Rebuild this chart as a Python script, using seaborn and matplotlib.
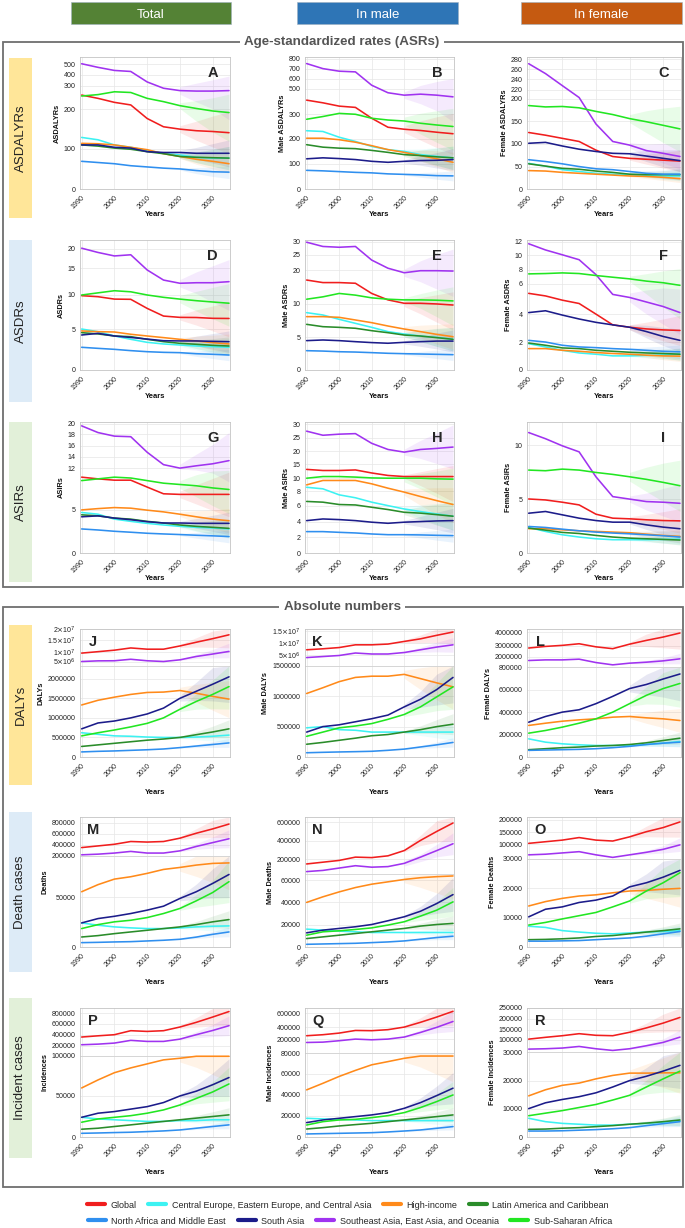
import numpy as np
import pandas as pd
import matplotlib
matplotlib.use("Agg")
import matplotlib.pyplot as plt
import seaborn as sns
from matplotlib.patches import Rectangle
from matplotlib.lines import Line2D

sns.set_theme(style="white")
plt.rcParams['font.family'] = ['Liberation Sans', 'DejaVu Sans']

# ---------------------------------------------------------------- data
YEARS = [1990, 1995, 2000, 2005, 2010, 2015, 2020, 2025, 2030, 2035]
REGIONS = ["Global", "Central Europe, Eastern Europe, and Central Asia", "High-income",
           "Latin America and Caribbean", "North Africa and Middle East", "South Asia",
           "Southeast Asia, East Asia, and Oceania", "Sub-Saharan Africa"]
COLORS = ["#F01E1E", "#3CF2F2", "#FF8A1A", "#2A8C2A", "#2F8FEF", "#1C1C8A", "#A033F0", "#22E622"]
GL, CE, HI, LA, NA, SA, SE, SS = REGIONS

A = {GL: [261, 247, 230, 219, 177, 156, 150, 146, 144, 141],
     CE: [129, 123, 110, 104, 96, 89, 85, 79, 77, 77],
     HI: [114, 113, 110, 104, 98, 88, 81, 74, 69, 63],
     LA: [110, 107, 102, 99, 93, 88, 81, 79, 78, 77],
     NA: [69, 66, 63, 58, 55, 52, 50, 46, 43, 42],
     SA: [110, 110, 104, 102, 93, 91, 91, 89, 89, 89],
     SE: [505, 470, 440, 430, 335, 290, 280, 278, 278, 280],
     SS: [257, 263, 275, 272, 247, 233, 216, 204, 196, 192]}
B = {GL: [409, 388, 362, 352, 283, 247, 239, 234, 227, 221],
     CE: [233, 230, 207, 190, 170, 157, 150, 137, 130, 124],
     HI: [203, 203, 197, 187, 173, 157, 146, 133, 120, 106],
     LA: [177, 167, 163, 161, 154, 146, 137, 133, 128, 124],
     NA: [74, 72, 69, 66, 64, 60, 58, 56, 53, 52],
     SA: [120, 124, 121, 117, 110, 106, 110, 113, 114, 117],
     SE: [751, 700, 674, 667, 533, 467, 448, 456, 448, 435],
     SS: [279, 290, 305, 299, 283, 276, 272, 263, 256, 250]}
C = {GL: [125, 119, 112, 105, 86, 72, 68, 66, 64, 62],
     CE: [57, 51, 43, 39, 35, 33, 32, 31, 29, 29],
     HI: [41, 40, 37, 35, 33, 31, 29, 28, 26, 23],
     LA: [56, 51, 46, 44, 40, 37, 33, 32, 32, 32],
     NA: [65, 61, 56, 50, 45, 43, 39, 35, 33, 33],
     SA: [101, 103, 95, 88, 83, 79, 78, 73, 68, 63],
     SE: [271, 251, 228, 203, 144, 105, 97, 85, 79, 72],
     SS: [185, 182, 183, 180, 172, 165, 156, 149, 141, 133]}
D = {GL: [9.9, 9.75, 9.4, 9.37, 8.05, 6.93, 6.74, 6.72, 6.6, 6.58],
     CE: [5.04, 4.71, 4.18, 3.77, 3.4, 3.2, 3.07, 2.95, 2.87, 2.79],
     HI: [4.8, 4.71, 4.67, 4.39, 4.18, 3.98, 3.77, 3.57, 3.36, 3.2],
     LA: [4.59, 4.43, 4.18, 4.1, 3.77, 3.48, 3.28, 3.16, 3.03, 2.95],
     NA: [2.79, 2.66, 2.54, 2.38, 2.25, 2.17, 2.13, 2.0, 1.93, 1.84],
     SA: [4.3, 4.5, 4.18, 4.0, 3.8, 3.6, 3.57, 3.57, 3.52, 3.48],
     SE: [20.2, 19.1, 18.2, 18.5, 14.7, 12.8, 12.2, 12.3, 12.3, 12.5],
     SS: [10.0, 10.4, 10.8, 10.6, 10.0, 9.66, 9.4, 9.17, 8.98, 8.8]}
E = {GL: [17.05, 16.3, 16.3, 16.1, 13.1, 11.2, 10.2, 10.2, 10.0, 9.84],
     CE: [8.7, 8.35, 7.7, 7.1, 6.5, 5.86, 5.5, 5.2, 5.0, 4.7],
     HI: [8.1, 8.1, 8.0, 7.6, 7.2, 6.7, 6.25, 5.86, 5.45, 5.1],
     LA: [6.95, 6.6, 6.5, 6.36, 6.0, 5.7, 5.35, 5.2, 4.96, 4.7],
     NA: [2.96, 2.9, 2.8, 2.75, 2.66, 2.56, 2.5, 2.45, 2.4, 2.35],
     SA: [4.5, 4.6, 4.5, 4.34, 4.2, 4.1, 4.24, 4.34, 4.43, 4.43],
     SE: [29.8, 28.2, 27.9, 28.2, 23.3, 20.6, 19.2, 19.8, 19.8, 19.7],
     SS: [11.4, 12.1, 13.1, 12.6, 11.8, 11.4, 11.2, 11.2, 11.1, 10.9]}
F = {GL: [5.37, 5.2, 4.92, 4.7, 4.0, 3.23, 3.06, 2.94, 2.87, 2.83],
     CE: [1.88, 1.65, 1.41, 1.22, 1.13, 1.01, 1.01, 1.04, 1.08, 1.13],
     HI: [1.53, 1.53, 1.41, 1.34, 1.25, 1.18, 1.13, 1.06, 1.01, 0.99],
     LA: [1.93, 1.77, 1.58, 1.53, 1.41, 1.34, 1.27, 1.22, 1.18, 1.13],
     NA: [2.12, 2.0, 1.77, 1.65, 1.6, 1.53, 1.48, 1.41, 1.34, 1.3],
     SA: [4.1, 4.22, 3.93, 3.65, 3.41, 3.23, 3.06, 2.75, 2.4, 2.12],
     SE: [11.7, 10.8, 10.1, 9.4, 7.3, 5.3, 5.1, 4.8, 4.5, 4.1],
     SS: [7.4, 7.45, 7.54, 7.45, 7.17, 6.93, 6.7, 6.38, 6.15, 5.9]}
G = {GL: [8.8, 8.6, 8.45, 8.45, 7.65, 6.87, 6.8, 6.8, 6.8, 6.8],
     CE: [4.7, 4.5, 3.93, 3.67, 3.44, 3.25, 3.09, 2.98, 2.9, 2.79],
     HI: [5.0, 5.15, 5.27, 5.2, 4.97, 4.77, 4.5, 4.2, 3.93, 3.74],
     LA: [4.43, 4.31, 4.05, 3.93, 3.67, 3.48, 3.25, 3.09, 2.98, 2.86],
     NA: [2.79, 2.67, 2.52, 2.41, 2.29, 2.21, 2.14, 2.06, 1.99, 1.91],
     SA: [4.2, 4.31, 4.05, 3.86, 3.63, 3.48, 3.48, 3.44, 3.44, 3.44],
     SE: [19.6, 18.35, 17.7, 17.6, 14.8, 12.6, 12.0, 12.4, 12.75, 13.3],
     SS: [8.4, 8.6, 8.8, 8.7, 8.4, 8.1, 7.95, 7.8, 7.55, 7.37]}
H = {GL: [13.2, 12.8, 12.8, 13.0, 11.9, 11.0, 10.6, 10.6, 10.6, 10.6],
     CE: [8.6, 8.36, 7.5, 7.1, 6.5, 6.03, 5.6, 5.27, 4.97, 4.68],
     HI: [8.97, 9.65, 9.65, 9.65, 9.13, 8.46, 7.87, 7.27, 6.71, 6.18],
     LA: [6.6, 6.5, 6.18, 6.12, 5.82, 5.53, 5.18, 5.07, 4.88, 4.68],
     NA: [2.72, 2.72, 2.63, 2.55, 2.42, 2.33, 2.33, 2.3, 2.25, 2.21],
     SA: [4.12, 4.33, 4.25, 4.12, 3.92, 3.78, 3.92, 4.0, 4.08, 4.12],
     SE: [27.5, 26.0, 26.4, 26.6, 23.0, 20.7, 19.7, 20.7, 21.1, 21.6],
     SS: [10.0, 10.6, 10.6, 10.4, 10.1, 10.0, 10.0, 10.0, 9.9, 9.85]}
I = {GL: [5.01, 4.92, 4.71, 4.46, 3.6, 3.23, 3.17, 3.08, 3.01, 2.98],
     CE: [2.37, 2.0, 1.69, 1.48, 1.32, 1.23, 1.23, 1.23, 1.26, 1.29],
     HI: [2.25, 2.25, 2.15, 2.06, 2.0, 1.94, 1.88, 1.75, 1.63, 1.54],
     LA: [2.31, 2.12, 1.91, 1.81, 1.63, 1.48, 1.38, 1.32, 1.26, 1.2],
     NA: [2.46, 2.37, 2.21, 2.06, 1.94, 1.85, 1.78, 1.69, 1.6, 1.48],
     SA: [3.69, 3.85, 3.54, 3.23, 3.01, 2.86, 2.86, 2.61, 2.4, 2.25],
     SE: [11.17, 10.6, 9.94, 9.38, 7.07, 5.23, 5.0, 4.77, 4.71, 4.61],
     SS: [7.69, 7.63, 7.78, 7.69, 7.47, 7.29, 7.07, 6.83, 6.55, 6.24]}
J = {GL: [9.5e6, 1.02e7, 1.08e7, 1.17e7, 1.12e7, 1.12e7, 1.25e7, 1.4e7, 1.55e7, 1.73e7],
     CE: [6.2e5, 5.8e5, 5.4e5, 5.3e5, 5.1e5, 5.0e5, 5.0e5, 5.1e5, 5.3e5, 5.6e5],
     HI: [1.33e6, 1.45e6, 1.53e6, 1.60e6, 1.65e6, 1.66e6, 1.70e6, 1.63e6, 1.55e6, 1.48e6],
     LA: [2.7e5, 3.1e5, 3.5e5, 3.9e5, 4.3e5, 4.6e5, 5.0e5, 5.7e5, 6.4e5, 7.2e5],
     NA: [1.3e5, 1.45e5, 1.55e5, 1.7e5, 1.85e5, 2.05e5, 2.4e5, 2.8e5, 3.2e5, 3.6e5],
     SA: [7.2e5, 8.7e5, 9.2e5, 1.0e6, 1.1e6, 1.25e6, 1.5e6, 1.68e6, 1.86e6, 2.05e6],
     SE: [5.0e6, 5.35e6, 5.4e6, 6.2e6, 5.4e6, 5.0e6, 5.9e6, 7.7e6, 9.0e6, 1.03e7],
     SS: [5.4e5, 6.2e5, 6.9e5, 7.7e5, 8.6e5, 1.0e6, 1.22e6, 1.42e6, 1.6e6, 1.8e6]}
K = {GL: [7.3e6, 7.7e6, 8.2e6, 9.3e6, 9.3e6, 9.6e6, 1.07e7, 1.18e7, 1.33e7, 1.47e7],
     CE: [4.8e5, 5.0e5, 4.5e5, 4.4e5, 4.1e5, 4.1e5, 4.1e5, 4.1e5, 4.1e5, 4.1e5],
     HI: [1.045e6, 1.14e6, 1.24e6, 1.31e6, 1.33e6, 1.33e6, 1.36e6, 1.29e6, 1.22e6, 1.155e6],
     LA: [2.1e5, 2.4e5, 2.75e5, 3.1e5, 3.5e5, 3.7e5, 4.1e5, 4.5e5, 5.0e5, 5.4e5],
     NA: [7e4, 7.7e4, 8.3e4, 8.8e4, 9.4e4, 1.1e5, 1.3e5, 1.65e5, 2.0e5, 2.4e5],
     SA: [4.1e5, 5.0e5, 5.3e5, 5.8e5, 6.3e5, 6.9e5, 8.25e5, 9.5e5, 1.11e6, 1.31e6],
     SE: [4.3e6, 4.65e6, 5.0e6, 6.0e6, 5.6e6, 5.6e6, 6.2e6, 7.3e6, 8.4e6, 9.3e6],
     SS: [3.4e5, 4.1e5, 4.8e5, 5.1e5, 5.5e5, 6.2e5, 7.0e5, 8.25e5, 9.9e5, 1.155e6]}
L = {GL: [2.79e6, 2.94e6, 3.03e6, 3.15e6, 2.9e6, 2.73e6, 3.12e6, 3.4e6, 3.65e6, 3.95e6],
     CE: [1.64e5, 1.34e5, 1.19e5, 1.1e5, 1.04e5, 1.04e5, 1.04e5, 1.13e5, 1.25e5, 1.4e5],
     HI: [2.84e5, 3.04e5, 3.22e5, 3.34e5, 3.43e5, 3.58e5, 3.64e5, 3.52e5, 3.43e5, 3.28e5],
     LA: [6.6e4, 7.5e4, 8.4e4, 9.0e4, 9.9e4, 1.04e5, 1.13e5, 1.28e5, 1.49e5, 1.7e5],
     NA: [6.0e4, 6.3e4, 6.6e4, 6.9e4, 7.5e4, 8.4e4, 9.6e4, 1.13e5, 1.25e5, 1.34e5],
     SA: [3.13e5, 3.64e5, 4.03e5, 4.24e5, 4.78e5, 5.43e5, 6.12e5, 6.48e5, 6.96e5, 7.4e5],
     SE: [1.55e6, 1.62e6, 1.62e6, 1.7e6, 1.32e6, 1.06e6, 1.25e6, 1.36e6, 1.51e6, 1.74e6],
     SS: [2.15e5, 2.39e5, 2.69e5, 3.04e5, 3.43e5, 4.03e5, 4.78e5, 5.52e5, 6.12e5, 6.57e5]}
M = {GL: [3.5e5, 3.8e5, 4.1e5, 4.6e5, 4.5e5, 4.6e5, 5.2e5, 6.1e5, 6.9e5, 7.8e5],
     CE: [2.43e4, 2.2e4, 2.03e4, 1.93e4, 1.86e4, 1.86e4, 1.93e4, 2.03e4, 2.1e4, 2.13e4],
     HI: [5.58e4, 6.3e4, 6.86e4, 7.1e4, 7.44e4, 7.84e4, 8.04e4, 8.28e4, 8.45e4, 8.5e4],
     LA: [1.01e4, 1.15e4, 1.35e4, 1.52e4, 1.69e4, 1.86e4, 2.03e4, 2.26e4, 2.54e4, 2.77e4],
     NA: [4.4e3, 4.7e3, 5.1e3, 5.4e3, 6.1e3, 6.8e3, 7.8e3, 1.0e4, 1.28e4, 1.52e4],
     SA: [2.43e4, 2.87e4, 3.1e4, 3.38e4, 3.72e4, 4.12e4, 4.9e4, 5.58e4, 6.42e4, 7.33e4],
     SE: [2.18e5, 2.3e5, 2.5e5, 2.8e5, 2.5e5, 2.5e5, 2.9e5, 3.7e5, 4.4e5, 5.1e5],
     SS: [1.86e4, 2.26e4, 2.54e4, 2.7e4, 2.97e4, 3.38e4, 3.89e4, 4.66e4, 5.5e4, 6.6e4]}
N = {GL: [1.84e5, 1.9e5, 1.96e5, 2.23e5, 2.18e5, 2.37e5, 2.94e5, 4.04e5, 5.0e5, 5.9e5],
     CE: [1.59e4, 1.5e4, 1.41e4, 1.35e4, 1.29e4, 1.29e4, 1.29e4, 1.29e4, 1.29e4, 1.29e4],
     HI: [4.0e4, 4.5e4, 4.94e4, 5.33e4, 5.63e4, 5.84e4, 6.05e4, 6.2e4, 6.29e4, 6.35e4],
     LA: [7.5e3, 9.0e3, 1.05e4, 1.2e4, 1.35e4, 1.5e4, 1.65e4, 1.86e4, 2.0e4, 2.1e4],
     NA: [2.4e3, 2.7e3, 3.0e3, 3.3e3, 3.9e3, 4.5e3, 5.4e3, 6.9e3, 8.4e3, 9.6e3],
     SA: [1.26e4, 1.5e4, 1.65e4, 1.8e4, 2.0e4, 2.34e4, 2.7e4, 3.2e4, 3.9e4, 4.7e4],
     SE: [1.58e5, 1.62e5, 1.70e5, 1.78e5, 1.73e5, 1.75e5, 1.86e5, 2.23e5, 2.94e5, 3.68e5],
     SS: [1.05e4, 1.35e4, 1.44e4, 1.56e4, 1.7e4, 1.95e4, 2.25e4, 2.76e4, 3.3e4, 4.05e4]}
O = {GL: [1.03e5, 1.1e5, 1.17e5, 1.28e5, 1.17e5, 1.13e5, 1.31e5, 1.53e5, 1.69e5, 1.91e5],
     CE: [7.1e3, 6.7e3, 5.6e3, 5.1e3, 4.7e3, 4.5e3, 4.8e3, 5.1e3, 5.3e3, 5.6e3],
     HI: [1.4e4, 1.55e4, 1.66e4, 1.74e4, 1.78e4, 1.85e4, 1.91e4, 1.93e4, 1.97e4, 2.0e4],
     LA: [2.5e3, 2.6e3, 2.8e3, 3.1e3, 3.6e3, 3.9e3, 4.5e3, 5.1e3, 5.6e3, 6.2e3],
     NA: [2.0e3, 2.0e3, 2.1e3, 2.2e3, 2.5e3, 2.8e3, 3.1e3, 3.7e3, 4.5e3, 5.3e3],
     SA: [1.03e4, 1.29e4, 1.37e4, 1.52e4, 1.6e4, 1.74e4, 2.05e4, 2.19e4, 2.38e4, 2.61e4],
     SE: [4.9e4, 5.2e4, 5.8e4, 6.4e4, 4.9e4, 3.7e4, 4.9e4, 6.1e4, 7.5e4, 9.6e4],
     SS: [7.5e3, 8.4e3, 9.6e3, 1.07e4, 1.18e4, 1.37e4, 1.57e4, 1.91e4, 2.19e4, 2.53e4]}
P = {GL: [3.58e5, 3.8e5, 4.0e5, 4.73e5, 4.6e5, 4.73e5, 5.4e5, 6.26e5, 7.25e5, 8.3e5],
     CE: [2.4e4, 2.2e4, 2.1e4, 2.0e4, 1.9e4, 1.9e4, 2.0e4, 2.0e4, 2.1e4, 2.1e4],
     HI: [6.0e4, 7.0e4, 7.9e4, 8.5e4, 9.0e4, 9.5e4, 9.7e4, 9.95e4, 9.95e4, 9.95e4],
     LA: [9.5e3, 1.07e4, 1.28e4, 1.48e4, 1.69e4, 1.9e4, 2.1e4, 2.3e4, 2.5e4, 2.7e4],
     NA: [4.5e3, 4.9e3, 5.4e3, 5.8e3, 6.6e3, 7.4e3, 8.6e3, 1.07e4, 1.28e4, 1.48e4],
     SA: [2.4e4, 2.9e4, 3.1e4, 3.4e4, 3.7e4, 4.2e4, 5.0e4, 5.6e4, 6.4e4, 7.3e4],
     SE: [2.19e5, 2.3e5, 2.49e5, 2.98e5, 2.79e5, 2.79e5, 3.2e5, 4.0e5, 4.77e5, 5.65e5],
     SS: [1.8e4, 2.2e4, 2.4e4, 2.6e4, 2.9e4, 3.3e4, 3.9e4, 4.7e4, 5.5e4, 6.5e4]}
Q = {GL: [2.56e5, 2.73e5, 3.0e5, 3.44e5, 3.4e5, 3.57e5, 4.0e5, 4.68e5, 5.43e5, 6.24e5],
     CE: [1.78e4, 1.72e4, 1.68e4, 1.62e4, 1.56e4, 1.56e4, 1.56e4, 1.56e4, 1.56e4, 1.56e4],
     HI: [4.48e4, 5.1e4, 5.75e4, 6.33e4, 6.87e4, 7.18e4, 7.5e4, 7.72e4, 7.72e4, 7.72e4],
     LA: [7.6e3, 8.9e3, 1.05e4, 1.18e4, 1.3e4, 1.46e4, 1.62e4, 1.78e4, 1.94e4, 2.1e4],
     NA: [2.9e3, 3.2e3, 3.5e3, 3.8e3, 4.1e3, 4.8e3, 5.7e3, 6.7e3, 8.3e3, 9.9e3],
     SA: [1.37e4, 1.62e4, 1.78e4, 1.94e4, 2.1e4, 2.32e4, 2.73e4, 3.27e4, 3.94e4, 4.64e4],
     SE: [1.71e5, 1.74e5, 1.86e5, 2.0e5, 1.94e5, 2.0e5, 2.34e5, 3.11e5, 3.96e5, 4.8e5],
     SS: [1.14e4, 1.46e4, 1.62e4, 1.68e4, 1.84e4, 2.03e4, 2.32e4, 2.8e4, 3.37e4, 4.0e4]}
R = {GL: [1.03e5, 1.12e5, 1.2e5, 1.3e5, 1.22e5, 1.2e5, 1.37e5, 1.58e5, 1.8e5, 2.06e5],
     CE: [6.6e3, 5.4e3, 4.8e3, 4.5e3, 4.2e3, 4.2e3, 4.5e3, 4.8e3, 5.2e3, 5.7e3],
     HI: [1.46e4, 1.68e4, 1.84e4, 1.92e4, 2.07e4, 2.19e4, 2.27e4, 2.27e4, 2.28e4, 2.28e4],
     LA: [2.7e3, 2.8e3, 3.1e3, 3.3e3, 3.65e3, 4.0e3, 4.5e3, 4.9e3, 5.4e3, 6.0e3],
     NA: [2.1e3, 2.1e3, 2.2e3, 2.4e3, 2.6e3, 2.9e3, 3.3e3, 4.0e3, 4.7e3, 5.4e3],
     SA: [1.0e4, 1.21e4, 1.33e4, 1.43e4, 1.57e4, 1.78e4, 2.01e4, 2.16e4, 2.34e4, 2.54e4],
     SE: [4.7e4, 4.9e4, 5.3e4, 6.2e4, 4.9e4, 3.95e4, 4.9e4, 6.6e4, 8.5e4, 1.13e5],
     SS: [7.5e3, 8.4e3, 9.3e3, 1.04e4, 1.15e4, 1.31e4, 1.48e4, 1.78e4, 2.07e4, 2.34e4]}

# y tick values of each panel (axis labels)
TICKS_A = [0, 100, 200, 300, 400, 500]
TICKS_B = [0, 100, 200, 300, 500, 600, 700, 800]
TICKS_C = [0, 50, 100, 150, 200, 220, 240, 260, 280]
TICKS_D = [0, 5, 10, 15, 20]
TICKS_E = [0, 5, 10, 20, 25, 30]
TICKS_F = [0, 2, 4, 6, 8, 10, 12]
TICKS_G = [0, 5, 12, 14, 16, 18, 20]
TICKS_H = [0, 2, 4, 6, 8, 10, 15, 20, 25, 30]
TICKS_I = [0, 5, 10]
TICKS_J = [0, 5e5, 1e6, 1.5e6, 2e6, 5e6, 1e7, 1.5e7, 2e7]
TICKS_K = [0, 5e5, 1e6, 1.5e6, 5e6, 1e7, 1.5e7]
TICKS_L = [0, 2e5, 4e5, 6e5, 8e5, 2e6, 3e6, 4e6]
TICKS_M = [0, 5e4, 2e5, 4e5, 6e5, 8e5]
TICKS_N = [0, 2e4, 4e4, 6e4, 2e5, 4e5, 6e5]
TICKS_O = [0, 1e4, 2e4, 3e4, 1e5, 1.5e5, 2e5]
TICKS_P = [0, 5e4, 1e5, 2e5, 4e5, 6e5, 8e5]
TICKS_Q = [0, 2e4, 4e4, 6e4, 8e4, 2e5, 4e5, 6e5]
TICKS_R = [0, 1e4, 2e4, 3e4, 1e5, 1.5e5, 2e5, 2.5e5]

# ---------------------------------------------------------------- axis styling (broken / piecewise y scales)
AX_A = ([0, 100, 200, 300, 400, 500, 570], [0, .304, .603, .781, .867, .945, 1])
AX_B = ([0, 100, 200, 300, 500, 600, 700, 800, 817], [0, .191, .379, .568, .761, .837, .912, .987, 1])
AX_C = ([0, 50, 100, 150, 200, 220, 240, 260, 280, 285], [0, .17, .343, .513, .683, .75, .833, .908, .983, 1])
AX_D = ([0, 5, 10, 15, 20, 22.3], [0, .313, .577, .782, .931, 1])
AX_E = ([0, 5, 10, 20, 25, 30, 30.6], [0, .251, .508, .769, .885, .987, 1])
AX_F = ([0, 2, 4, 6, 8, 10, 12, 12.25], [0, .215, .43, .663, .772, .881, .987, 1])
AX_G = ([0, 5, 9.5, 12, 14, 16, 18, 20, 20.3], [0, .329, .625, .648, .736, .819, .905, .987, 1])
AX_H = ([0, 2, 4, 6, 8, 10, 15, 20, 25, 30, 30.9], [0, .12, .24, .36, .472, .571, .676, .776, .878, .982, 1])
AX_I = ([0, 12.15], [0, 1])
AX_J = ([0, 2.33e6, 3e6, 5e6, 1e7, 1.5e7, 2e7], [0, .712, .7125, .746, .819, .916, 1])
AX_K = ([0, 1.5e6, 5e6, 1e7, 1.5e7, 1.55e7], [0, .712, .793, .89, .982, 1])
AX_L = ([0, 2e5, 4e5, 6e5, 8e5, 2e6, 3e6, 4e6, 4.25e6], [0, .173, .348, .524, .702, .785, .869, .974, 1])
AX_M = ([0, 5e4, 9.2e4, 2e5, 4e5, 6e5, 8e5, 9.1e5], [0, .381, .70, .7015, .786, .871, .954, 1])
AX_N = ([0, 2e4, 4e4, 6e4, 6.5e4, 1.5e5, 2e5, 4e5, 6e5, 6.55e5], [0, .173, .343, .515, .56, .562, .675, .817, .961, 1])
AX_O = ([0, 1e4, 2e4, 3e4, 1e5, 1.5e5, 2e5, 2.1e5], [0, .225, .451, .678, .792, .881, .98, 1])
AX_P = ([0, 5e4, 1e5, 2e5, 4e5, 6e5, 8e5, 9e5], [0, .318, .629, .707, .793, .878, .961, 1])
AX_Q = ([0, 2e4, 4e4, 6e4, 8e4, 2e5, 4e5, 6e5, 6.7e5], [0, .163, .326, .49, .65, .759, .852, .961, 1])
AX_R = ([0, 1e4, 2e4, 3e4, 1e5, 1.5e5, 2e5, 2.5e5], [0, .22, .435, .658, .754, .832, .917, 1])
SPLITS = {"J": (2.33e6, 3e6), "K": (1.5e6, 1.5e6), "L": (8e5, 8e5), "M": (9.2e4, 2e5),
          "N": (6.5e4, 1.5e5), "O": (3e4, 3e4), "P": (1e5, 1e5), "Q": (8e4, 8e4), "R": (3e4, 3e4)}

W, Hpx = 685, 1228
fig = plt.figure(figsize=(W / 100, Hpx / 100), dpi=100)
fig.patch.set_facecolor("white")

COL_X = [(80, 230), (305, 454), (527, 681)]
ROW_Y = [(57, 189), (240, 370), (422, 553), (629, 757), (817, 947), (1008, 1137)]
YEARS_Y = [215, 397, 579, 792, 982, 1173]


def sci(v):
    e = int(np.floor(np.log10(v)))
    m = v / 10 ** e
    return ("%g" % m) + r"$\times$10$^{%d}$" % e


def fmt(v, big):
    if big and v >= 5e6:
        return sci(v)
    return "%g" % v if v < 1e5 else "%d" % int(v)


PANELS = [
    ("A", A, "ASDALYRs", TICKS_A, AX_A), ("B", B, "Male ASDALYRs", TICKS_B, AX_B),
    ("C", C, "Female ASDALYRs", TICKS_C, AX_C),
    ("D", D, "ASDRs", TICKS_D, AX_D), ("E", E, "Male ASDRs", TICKS_E, AX_E),
    ("F", F, "Female ASDRs", TICKS_F, AX_F),
    ("G", G, "ASIRs", TICKS_G, AX_G), ("H", H, "Male ASIRs", TICKS_H, AX_H),
    ("I", I, "Female ASIRs", TICKS_I, AX_I),
    ("J", J, "DALYs", TICKS_J, AX_J), ("K", K, "Male DALYs", TICKS_K, AX_K),
    ("L", L, "Female DALYs", TICKS_L, AX_L),
    ("M", M, "Deaths", TICKS_M, AX_M), ("N", N, "Male Deaths", TICKS_N, AX_N),
    ("O", O, "Female Deaths", TICKS_O, AX_O),
    ("P", P, "Incidences", TICKS_P, AX_P), ("Q", Q, "Male Incidences", TICKS_Q, AX_Q),
    ("R", R, "Female Incidences", TICKS_R, AX_R),
]

palette = dict(zip(REGIONS, COLORS))
yrs = np.array(YEARS)

for idx, (letter, data, ylab, ticks, (av, af)) in enumerate(PANELS):
    row, col = divmod(idx, 3)
    x0, x1 = COL_X[col]
    y0, y1 = ROW_Y[row]
    ax = fig.add_axes([x0 / W, 1 - y1 / Hpx, (x1 - x0) / W, (y1 - y0) / Hpx])
    absolute = row >= 3
    split = SPLITS.get(letter)
    bw = 0.38 if not absolute else 0.32

    # uncertainty fans (projection period)
    m = yrs >= 2020
    t = (yrs[m] - 2020) / 15.0
    for r in REGIONS:
        v = np.array(data[r], float)[m]
        f = bw * (0.15 + 0.85 * t)
        lo, hi = v * (1 - f), v * (1 + f)
        if split is not None:
            if data[r][-1] < split[0]:
                hi = np.minimum(hi, split[0])
            else:
                lo = np.maximum(lo, split[1])
        ax.fill_between(yrs[m], lo, hi, color=palette[r], alpha=0.1, lw=0, zorder=1)

    df = pd.DataFrame([(y, r, v) for r in REGIONS for y, v in zip(YEARS, data[r])],
                      columns=["Year", "Region", "Value"])
    sns.lineplot(data=df, x="Year", y="Value", hue="Region", hue_order=REGIONS,
                 palette=palette, legend=False, ax=ax, linewidth=1.15, zorder=3)

    fwd = (lambda a, b: (lambda v: np.interp(v, a, b)))(av, af)
    inv = (lambda a, b: (lambda v: np.interp(v, b, a)))(av, af)
    ax.set_yscale("function", functions=(fwd, inv))
    ax.set_ylim(0, av[-1])
    ax.set_xlim(1989.5, 2035.3)
    ax.set_yticks(ticks)
    ax.set_yticklabels([fmt(v, absolute) for v in ticks])
    ax.set_xticks([1990, 2000, 2010, 2020, 2030])
    ax.set_xticklabels(["1990", "2000", "2010", "2020", "2030"], rotation=45,
                       ha="right", rotation_mode="anchor")
    ax.tick_params(axis="both", labelsize=5.1, length=2, width=0.5, color="#999999",
                   pad=1.2, labelcolor="#222222")
    ax.tick_params(axis="x", pad=2)
    ax.grid(True, color="#E6E6E6", lw=0.5, zorder=0)
    for s in ax.spines.values():
        s.set_color("#C4C4C4")
        s.set_linewidth(0.6)
    if split is not None:
        ax.axhline(split[0], color="#D2D2D2", lw=0.6, zorder=2)
    ax.set_xlabel("")
    ax.set_ylabel(ylab, fontsize=5.3, fontweight="bold", labelpad=2, color="#111111")
    if absolute:
        ax.text(0.085, 0.9, letter, transform=ax.transAxes, ha="center", va="center",
                fontsize=10.5, fontweight="bold", zorder=5)
    else:
        ax.text(0.885, 0.88, letter, transform=ax.transAxes, ha="center", va="center",
                fontsize=10.5, fontweight="bold", zorder=5)
    fig.text((x0 + x1) / 2 / W, 1 - YEARS_Y[row] / Hpx, "Years", ha="center", va="center",
             fontsize=5.5, fontweight="bold", color="#111111")

# ---------------------------------------------------------------- decorations
def rect_px(x0, y0, x1, y1, **kw):
    fig.patches.append(Rectangle((x0 / W, 1 - y1 / Hpx), (x1 - x0) / W, (y1 - y0) / Hpx,
                                 transform=fig.transFigure, figure=fig, **kw))

# column headers
for (hx0, hx1), txt, c in [((71, 231), "Total", "#548235"), ((297, 458), "In male", "#2E75B6"),
                           ((521, 682), "In female", "#C55A11")]:
    rect_px(hx0, 2, hx1, 24, facecolor=c, edgecolor="#9DB0C0", lw=0.4)
    fig.text((hx0 + hx1) / 2 / W, 1 - 14.5 / Hpx, txt, ha="center", va="center",
             color="white", fontsize=9.5)

# section frames
rect_px(3, 42, 683, 587, facecolor="none", edgecolor="#6E6E6E", lw=1.3, zorder=0)
rect_px(3, 607, 683, 1187, facecolor="none", edgecolor="#6E6E6E", lw=1.3, zorder=0)
for ty, txt in [(42, "Age-standardized rates (ASRs)"), (607, "Absolute numbers")]:
    fig.text(342 / W, 1 - ty / Hpx, txt, ha="center", va="center", fontsize=9.6,
             fontweight="bold", color="#555555",
             bbox=dict(facecolor="white", edgecolor="none", pad=3.5))

# row label boxes
for (by0, by1), txt, c in [((58, 218), "ASDALYRs", "#FFE699"), ((240, 402), "ASDRs", "#DDEBF7"),
                           ((422, 582), "ASIRs", "#E2F0D9"), ((625, 785), "DALYs", "#FFE699"),
                           ((812, 972), "Death cases", "#DDEBF7"),
                           ((998, 1158), "Incident cases", "#E2F0D9")]:
    rect_px(9, by0, 32, by1, facecolor=c, edgecolor="none")
    fig.text(20.5 / W, 1 - (by0 + by1) / 2 / Hpx, txt, ha="center", va="center",
             rotation=90, fontsize=9.5, color="#222222")

# legend (two rows)
handles = [Line2D([0], [0], color=c, lw=3) for c in COLORS]
for rows, ly, lx in [((0, 4), 1205, 348), ((4, 8), 1221, 350)]:
    a, b = rows
    fig.legend(handles[a:b], REGIONS[a:b], loc="center", ncol=4, frameon=False,
               bbox_to_anchor=(lx / W, 1 - ly / Hpx), fontsize=6.5, handlelength=2.0,
               handletextpad=0.6, columnspacing=1.3, borderpad=0, borderaxespad=0)

fig.savefig("out.png", dpi=100, facecolor="white")
